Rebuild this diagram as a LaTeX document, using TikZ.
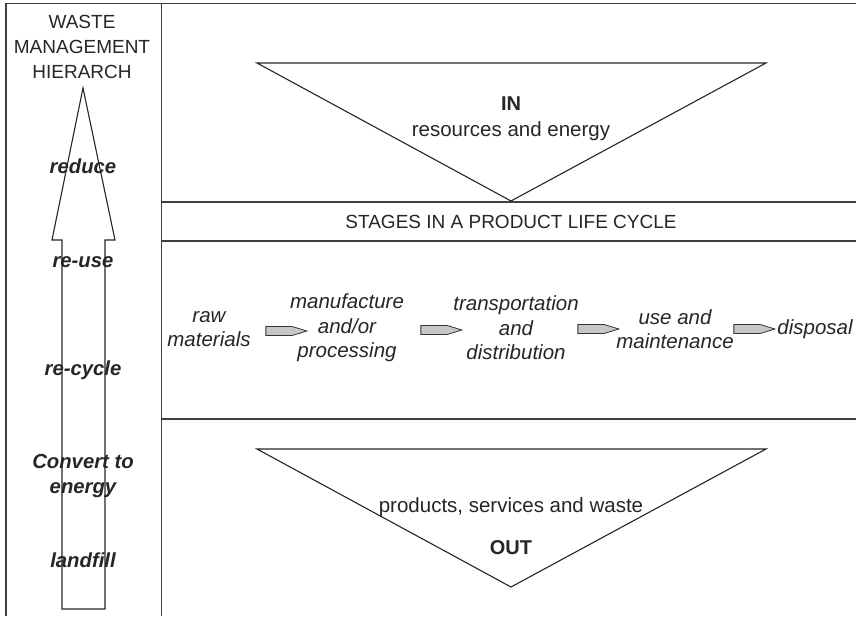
\documentclass[tikz,border=0pt]{standalone}
\usepackage{fontspec}
\setmainfont{Liberation Sans}
\usetikzlibrary{shapes.arrows}
\begin{document}
\begin{tikzpicture}[x=1pt,y=-1pt,
  frame/.style={draw=black!75,line width=1.3pt},
  tri/.style={draw=black!85,line width=1.1pt,line join=miter},
  txt/.style={font=\fontsize{20.5}{24.5}\selectfont,align=center,inner sep=0pt,text=black!85},
  caps/.style={txt,font=\fontsize{19}{25}\selectfont},
  stg/.style={txt,font=\fontsize{20.5}{24.5}\selectfont\itshape},
  lvl/.style={txt,font=\fontsize{20.3}{25}\selectfont\bfseries\itshape},
  pencil/.style={single arrow,single arrow head extend=0pt,shape border rotate=0,
    minimum height=41pt,minimum width=9pt,inner sep=0pt,single arrow tip angle=34,
    draw=black!80,line width=0.8pt,fill=black!22}]
\useasboundingbox (0,0) rectangle (856,616);
\fill[white] (0,0) rectangle (856,616);
% frame
\draw[frame] (6,616) -- (6,3.5) -- (856,3.5);
\draw[frame] (161.5,3.5) -- (161.5,616);
\draw[frame] (161.5,202) -- (856,202);
\draw[frame] (161.5,241) -- (856,241);
\draw[frame] (161.5,419) -- (856,419);
% triangles
\draw[tri] (257,63) -- (766,63) -- (511,201) -- cycle;
\draw[tri] (257,449) -- (766,449) -- (511,587) -- cycle;
% hierarchy arrow
\draw[tri] (62,609) -- (62,240) -- (52,240) -- (83,88) -- (115,240) -- (105,240) -- (105,609) -- cycle;
% left title
\node[caps] (title) at (82,47) {WASTE\\MANAGEMENT\\HIERARCH};
\node[lvl] (reduce) at (83,166) {reduce};
\node[lvl] (reuse) at (83,262) {re-use};
\node[lvl] (recycle) at (83,370) {re-cycle};
\node[lvl] (convert) at (83,476) {Convert to\\energy};
\node[lvl] (landfill) at (83,560) {landfill};
% IN / OUT
\node[txt,font=\fontsize{20}{24}\selectfont\bfseries] (in) at (511,104) {IN};
\node[txt] (res) at (511,131) {resources and energy};
\node[caps] (stages) at (511,222) {STAGES IN A PRODUCT LIFE CYCLE};
\node[txt] (prod) at (511,507) {products, services and waste};
\node[txt,font=\fontsize{20}{24}\selectfont\bfseries] (out) at (511,548) {OUT};
% stages
\node[stg] (raw) at (209,329) {raw\\materials};
\node[stg] (manu) at (347,328) {manufacture\\and/or\\processing};
\node[stg] (trans) at (516,328) {transportation\\and\\distribution};
\node[stg] (use) at (675,329) {use and\\maintenance};
\node[stg] (disp) at (815,329) {disposal};
\node[pencil] (a1) at (279,331) {};
\node[pencil] (a2) at (434,330) {};
\node[pencil] (a3) at (591,329) {};
\node[pencil] (a4) at (747,329) {};
\end{tikzpicture}
\end{document}
